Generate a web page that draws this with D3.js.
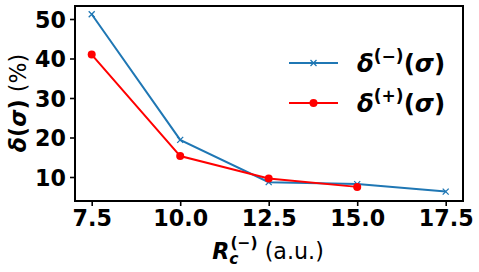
<!DOCTYPE html>
<html>
<head>
<meta charset="utf-8">
<script src="https://cdn.jsdelivr.net/npm/d3@7"></script>
<style>
body{margin:0;background:#fff;}
text{font-family:'DejaVu Sans',sans-serif;}
</style>
</head>
<body>
<svg id="chart" width="479" height="272"></svg>
<script>
// data
var rc = [7.5, 10.0, 12.5, 15.0, 17.5];
var deltaMinus = [51.2, 19.4, 8.7, 8.2, 6.3];
var rcPlus = [7.5, 10.0, 12.5, 15.0];
var deltaPlus = [41.0, 15.3, 9.6, 7.5];
var xTicks = [7.5, 10.0, 12.5, 15.0, 17.5];
var yTicks = [10, 20, 30, 40, 50];

var svg = d3.select('#chart');
var pLeft = 75, pRight = 463, pTop = 6, pBottom = 201;

// ticks placed where the reference has them
var x = d3.scaleLinear().domain([7.5, 17.5]).range([91.7, 445.7]);
var y = d3.scaleLinear().domain([10, 50]).range([177, 19]);

var xAxis = d3.axisBottom(x).tickValues(xTicks).tickFormat(d3.format('.1f')).tickSize(5).tickPadding(4);
var yAxis = d3.axisLeft(y).tickValues(yTicks).tickFormat(d3.format('d')).tickSize(5).tickPadding(4);

var gx = svg.append('g').attr('transform','translate(0,'+pBottom+')').call(xAxis);
var gy = svg.append('g').attr('transform','translate('+pLeft+',0)').call(yAxis);
[gx,gy].forEach(function(g){
	g.select('.domain').remove();
	g.selectAll('line').attr('stroke','#000').attr('stroke-width',1.6);
	g.selectAll('text').attr('fill','#000').style('font-size','22.2px').style('font-weight','bold');
});
gy.selectAll('text').attr('dy','0.36em');

// frame
svg.append('rect')
	.attr('x',pLeft).attr('y',pTop)
	.attr('width',pRight-pLeft).attr('height',pBottom-pTop)
	.attr('fill','none').attr('stroke','#000').attr('stroke-width',2);

var line = d3.line().x(function(d){ return x(d[0]) }).y(function(d){ return y(d[1]) });
var blueData = rc.map(function(v,i){ return [v, deltaMinus[i]] });
var redData = rcPlus.map(function(v,i){ return [v, deltaPlus[i]] });

svg.append('path').attr('d',line(blueData)).attr('fill','none').attr('stroke','#1f77b4').attr('stroke-width',2);
svg.selectAll('.bx').data(blueData).enter().append('path')
	.attr('class','bx')
	.attr('d','M-3,-3L3,3M-3,3L3,-3')
	.attr('transform',function(d){ return 'translate('+x(d[0])+','+y(d[1])+')' })
	.attr('stroke','#1f77b4').attr('stroke-width',1.3).attr('fill','none');

svg.append('path').attr('d',line(redData)).attr('fill','none').attr('stroke','#ff0000').attr('stroke-width',2);
svg.selectAll('.rd').data(redData).enter().append('circle')
	.attr('class','rd')
	.attr('cx',function(d){ return x(d[0]) }).attr('cy',function(d){ return y(d[1]) })
	.attr('r',4).attr('fill','#ff0000');

// legend
var lg = svg.append('g');
[['#1f77b4','\u2212',63,'x'],['#ff0000','+',103,'o']].forEach(function(e){
	lg.append('line').attr('x1',289).attr('x2',338).attr('y1',e[2]).attr('y2',e[2])
		.attr('stroke',e[0]).attr('stroke-width',2);
	if(e[3]=='x'){
		lg.append('path').attr('d','M-3,-3L3,3M-3,3L3,-3').attr('transform','translate(313.5,'+e[2]+')')
			.attr('stroke',e[0]).attr('stroke-width',1.3);
	} else {
		lg.append('circle').attr('cx',313.5).attr('cy',e[2]).attr('r',4).attr('fill',e[0]);
	}
	var t = lg.append('text').attr('x',357).attr('y',e[2]+9).style('font-size','24.5px').style('font-weight','bold');
	t.append('tspan').style('font-style','italic').text('\u03b4');
	t.append('tspan').attr('dy',-10).style('font-size','17px').text('('+e[1]+')');
	t.append('tspan').attr('dy',10).text('(');
	t.append('tspan').style('font-style','italic').text('\u03c3');
	t.append('tspan').text(')');
});

// axis labels
var xl = svg.append('text').attr('x',268).attr('y',259).attr('text-anchor','middle').style('font-size','22.2px');
xl.append('tspan').style('font-weight','bold').style('font-style','italic').text('R');
xl.append('tspan').attr('dy',5).style('font-weight','bold').style('font-style','italic').style('font-size','15.5px').text('c');
xl.append('tspan').attr('dx',-8).attr('dy',-16).style('font-weight','bold').style('font-size','15.5px').text('(\u2212)');
xl.append('tspan').attr('dy',11).text(' (a.u.)');

var yl = svg.append('text').attr('transform','translate(26,103) rotate(-90)').attr('text-anchor','middle').style('font-size','22.2px');
yl.append('tspan').style('font-weight','bold').style('font-style','italic').text('\u03b4');
yl.append('tspan').style('font-weight','bold').text('(');
yl.append('tspan').style('font-weight','bold').style('font-style','italic').text('\u03c3');
yl.append('tspan').style('font-weight','bold').text(')');
yl.append('tspan').text(' (%)');
</script>
</body>
</html>
